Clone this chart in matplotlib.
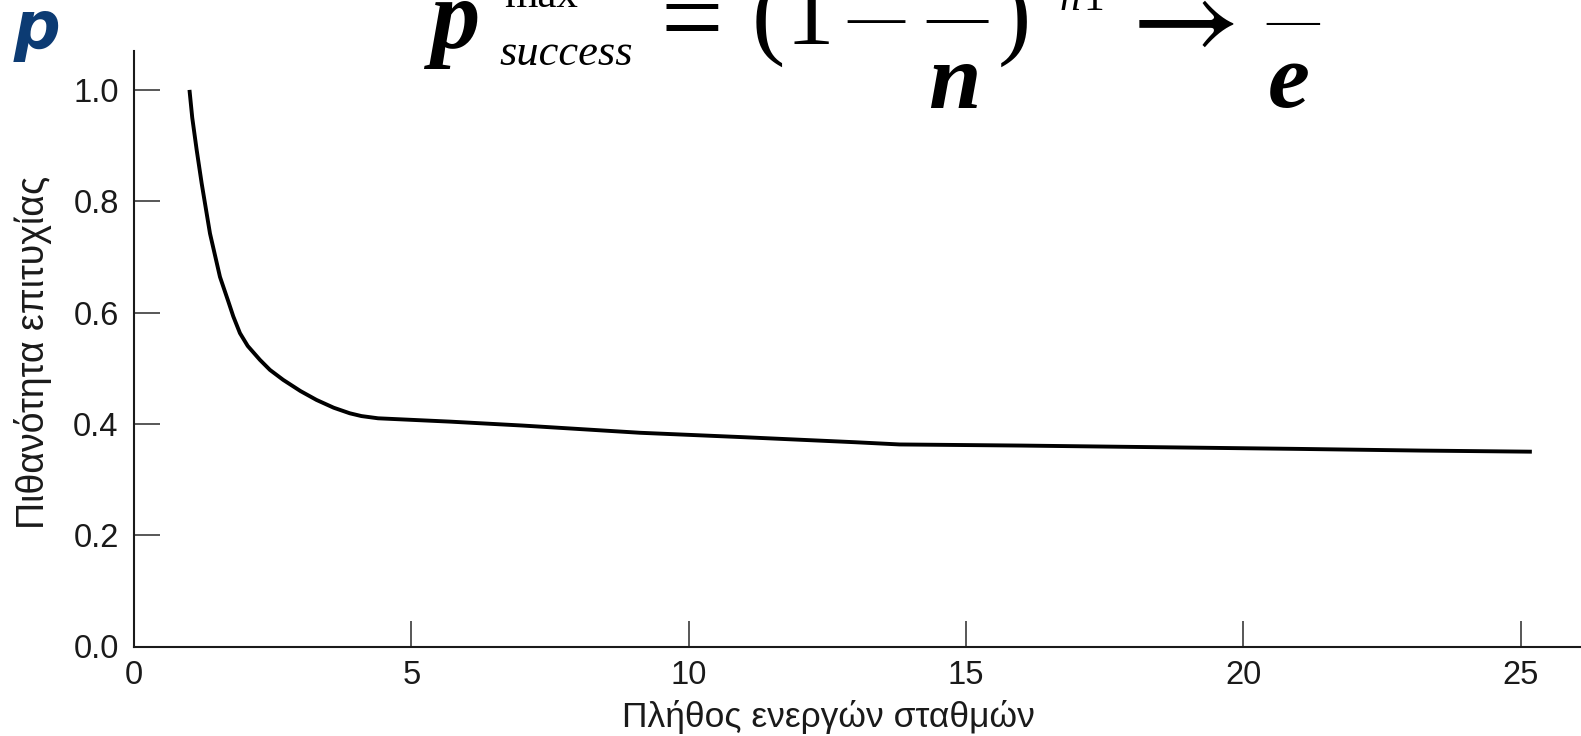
import matplotlib
matplotlib.use('Agg')
import matplotlib.pyplot as plt

# Curve
stations = [1.0, 1.05, 1.13, 1.22, 1.37, 1.55, 1.7, 1.79, 1.91, 2.05, 2.27, 2.45, 2.69,
            3.0, 3.29, 3.6, 3.89, 4.1, 4.4, 5.7, 7.0, 9.12, 11.0, 13.0, 13.8, 16.0,
            18.5, 21.0, 23.2, 25.2]
p_success = [1.0, 0.95, 0.892, 0.832, 0.742, 0.664, 0.62, 0.593, 0.563, 0.54, 0.515, 0.497,
             0.479, 0.459, 0.443, 0.429, 0.419, 0.414, 0.410, 0.404, 0.397, 0.384, 0.376,
             0.367, 0.363, 0.361, 0.358, 0.355, 0.352, 0.350]

x_ticks = [0, 5, 10, 15, 20, 25]
y_ticks = [0.0, 0.2, 0.4, 0.6, 0.8, 1.0]
y_ticklabels = ['0.0', '0.2', '0.4', '0.6', '0.8', '1.0']

W, H = 1581, 736
fig = plt.figure(figsize=(W / 100, H / 100), dpi=100)

# axes box in pixels (left, bottom from top, right, top from top)
L, B, R, T = 134, 646.5, 1581, 51
ax = fig.add_axes([L / W, 1 - B / H, (R - L) / W, (B - T) / H])

ax.plot(stations, p_success, color='black', lw=2.8, solid_capstyle='butt',
        solid_joinstyle='round')

ax.set_xlim(0, (R - L) / 55.47)
ax.set_ylim(0, (B - T) / 556.6)
ax.set_xticks(x_ticks)
ax.set_yticks(y_ticks)
ax.set_yticklabels(y_ticklabels)

for s in ['top', 'right']:
    ax.spines[s].set_visible(False)
for s in ['left', 'bottom']:
    ax.spines[s].set_linewidth(1.5)
    ax.spines[s].set_color('#1a1a1a')

ax.tick_params(direction='in', length=19, width=1.1, color='#2a2a2a',
               labelsize=23.5, labelcolor='#1a1a1a')
ax.tick_params(axis='y', pad=11)
ax.tick_params(axis='x', pad=10)
for lab in ax.get_xticklabels() + ax.get_yticklabels():
    lab.set_fontfamily('Liberation Sans')

ax.set_xlabel('Πλήθος ενεργών σταθμών', fontsize=25.5, family='Liberation Sans',
              color='#1a1a1a', va='baseline')
ax.xaxis.set_label_coords((828 - L) / (R - L), (B - 727) / (B - T))
ax.set_ylabel('Πιθανότητα επιτυχίας', fontsize=27, family='Liberation Sans',
              color='#1a1a1a', va='center')
ax.yaxis.set_label_coords((33 - L) / (R - L), (B - 352) / (B - T))

# blue "p" in the corner
fig.text(14 / W, 1 - 48 / H, 'p', fontsize=47, color='#0c3b73',
         family='DejaVu Sans', weight='bold', style='italic', va='baseline')


# formula, clipped at the top edge as in the source image
def ftext(x, y, s, size, style='normal', weight='normal'):
    fig.text(x / W, 1 - y / H, s, fontsize=size, style=style, weight=weight,
             family=['Liberation Serif', 'DejaVu Serif'], ha='left', va='baseline',
             math_fontfamily='stix')


ftext(430, 48, 'p', 71, style='italic', weight='bold')
ftext(504, 7, 'max', 31)
ftext(499, 65, 'success', 32, style='italic')
ftext(660, 54, '=', 80)
ftext(752, 46, '(', 72)
ftext(785, 44, '1', 70)
ftext(847, 35, '\u2014', 41)
ftext(926, 36, '\u2014', 44)
ftext(998, 46, ')', 72)
ftext(1060, 10, 'n', 30, style='italic')
ftext(1083, 10, '1', 30)
ftext(1113, 53, r'$\rightarrow$', 86)
ftext(1266, 36, '\u2014', 38)
ftext(928, 108, 'n', 68, style='italic', weight='bold')
ftext(1268, 107, 'e', 68, style='italic', weight='bold')

fig.savefig('out.png', dpi=100)
